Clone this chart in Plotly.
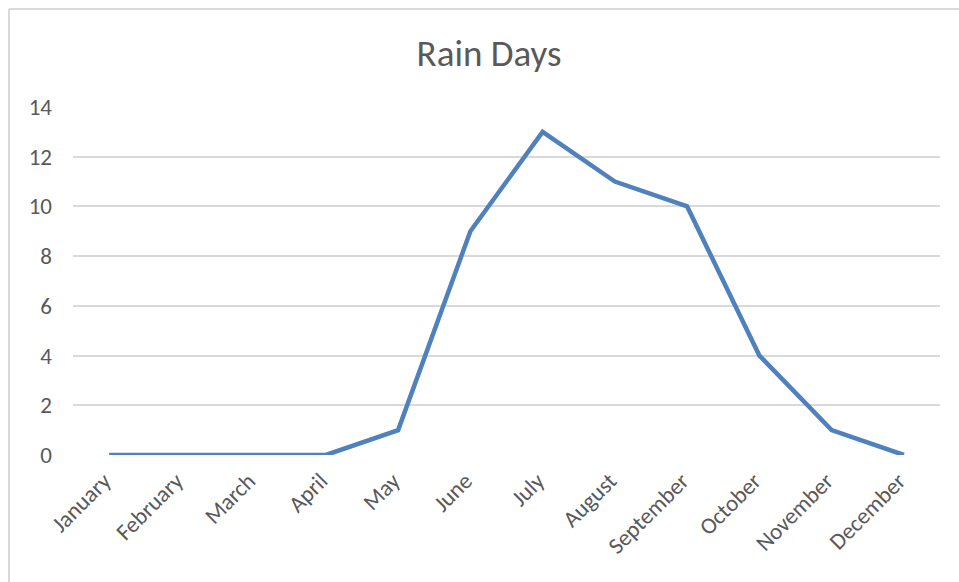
import plotly.graph_objects as go

months = ["January", "February", "March", "April", "May", "June", "July",
          "August", "September", "October", "November", "December"]
rain_days = [0, 0, 0, 0, 1, 9, 13, 11, 10, 4, 1, 0]
y_ticks = [0, 2, 4, 6, 8, 10, 12, 14]

FONT = "Carlito, Lato, sans-serif"
W, H = 959, 582
L, T = 73, 107
R, B = 959 - 940, 582 - 455
pw, ph = W - L - R, H - T - B

fig = go.Figure()
fig.add_trace(go.Scatter(
    x=list(range(len(months))), y=rain_days, mode="lines",
    line=dict(color="#4F81BD", width=4.5), hoverinfo="skip", showlegend=False,
))

bx0 = (9 - L) / pw
bx1 = (W + 10 - L) / pw
by1 = (T + ph - 9) / ph
by0 = -(B + 10) / ph
border = dict(color="#D9D9D9", width=2)

fig.update_layout(
    width=W, height=H,
    margin=dict(l=L, r=R, t=T, b=B),
    paper_bgcolor="white", plot_bgcolor="white",
    title=dict(text="Rain Days", x=489 / W, xanchor="center",
               y=1 - 53 / H, yanchor="middle", yref="container",
               font=dict(family=FONT, size=37, color="#595959")),
    xaxis=dict(
        tickmode="array", tickvals=list(range(len(months))), ticktext=months,
        range=[-0.5, 11.5], tickangle=-45, showgrid=False, zeroline=False,
        showline=False, ticks="", ticklabelstandoff=7, ticklabelshift=-5,
        tickfont=dict(family=FONT, size=23, color="#595959"),
    ),
    yaxis=dict(
        tickmode="array", tickvals=y_ticks, range=[0, 14],
        showgrid=True, gridcolor="#D9D9D9", gridwidth=1.5, zeroline=False,
        showline=False, ticks="", ticklabelstandoff=20,
        tickfont=dict(family=FONT, size=23, color="#595959"),
    ),
    shapes=[
        dict(type="line", xref="paper", yref="paper",
             x0=bx0, x1=bx1, y0=by1, y1=by1, line=border, layer="below"),
        dict(type="line", xref="paper", yref="paper",
             x0=bx0, x1=bx0, y0=by0, y1=by1, line=border, layer="below"),
    ],
)

post = ("document.body.style.margin='0';document.body.style.overflow='hidden';"
        "document.body.style.background='white';")
fig.write_html("out.html", post_script=post, config={"displayModeBar": False})
